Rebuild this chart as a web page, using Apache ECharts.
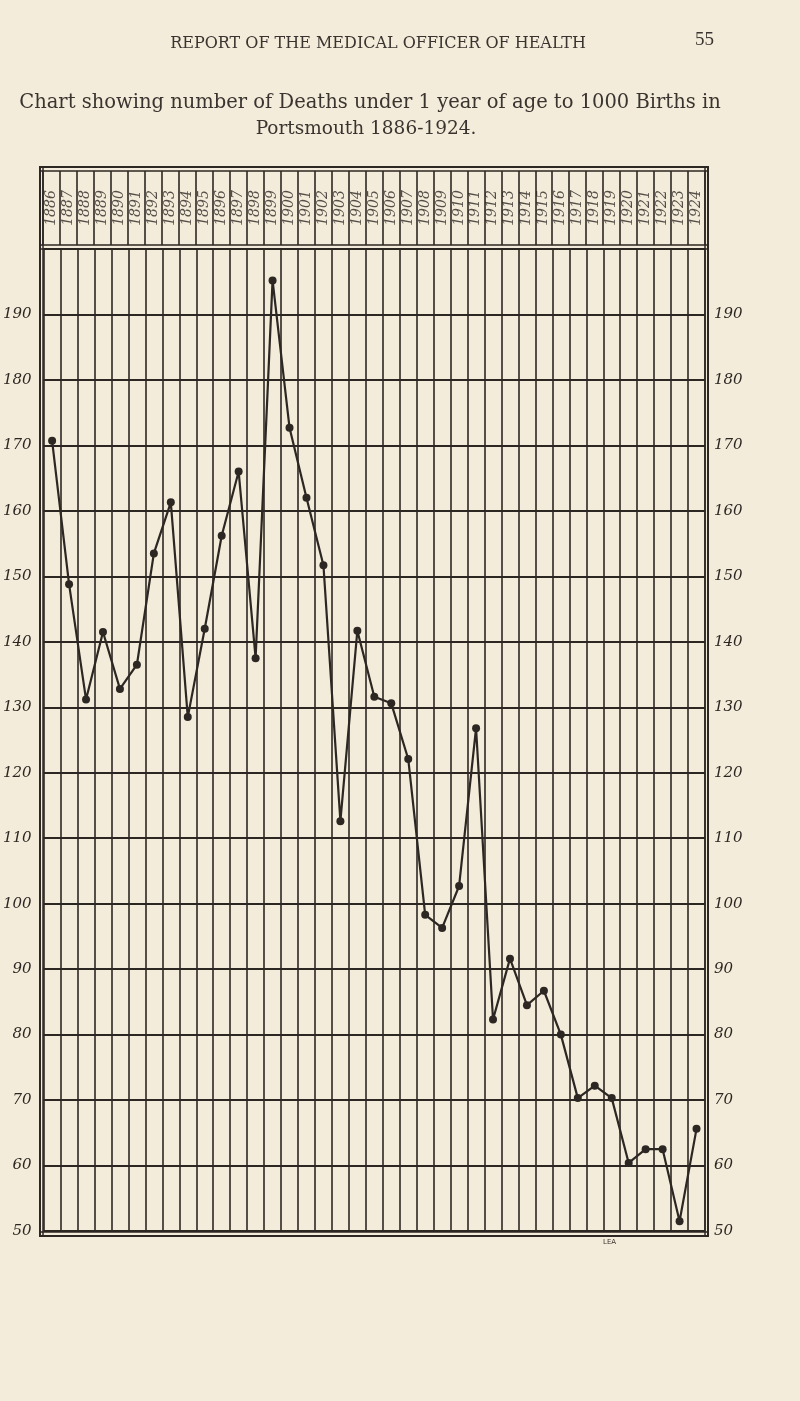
<!DOCTYPE html>
<html>
<head>
<meta charset="utf-8">
<script src="https://cdn.jsdelivr.net/npm/echarts@6/dist/echarts.min.js"></script>
<style>
html,body{margin:0;padding:0;background:#f3ecda;}
#chart{width:800px;height:1401px;}
</style>
</head>
<body>
<div id="chart"></div>
<script>
// ---- data ----
const years = ['1886','1887','1888','1889','1890','1891','1892','1893','1894','1895','1896','1897','1898','1899','1900','1901','1902','1903','1904','1905','1906','1907','1908','1909','1910','1911','1912','1913','1914','1915','1916','1917','1918','1919','1920','1921','1922','1923','1924'];
const deathsPer1000 = [170.7,148.8,131.2,141.5,132.8,136.5,153.5,161.3,128.5,142,156.2,166,137.5,195.2,172.7,162,151.7,112.6,141.7,131.6,130.6,122.1,98.3,96.3,102.7,126.8,82.3,91.6,84.5,86.7,80,70.3,72.2,70.3,60.4,62.5,62.5,51.5,65.6];
const yTickLabels = [50,60,70,80,90,100,110,120,130,140,150,160,170,180,190];
const headerText = 'REPORT OF THE MEDICAL OFFICER OF HEALTH';
const pageNumber = '55';
const titleLine1 = 'Chart showing number of Deaths under 1 year of age to 1000 Births in';
const titleLine2 = 'Portsmouth 1886-1924.';

const ink = '#2c2723';
const chart = echarts.init(document.getElementById('chart'), null, {renderer:'canvas'});

const yLabel = {
  show: true,
  color: ink,
  fontFamily: 'DejaVu Serif',
  fontStyle: 'italic',
  fontSize: 15,
  formatter: v => yTickLabels.indexOf(v) >= 0 ? String(v) : ''
};

const catAxis = (gi) => ({
  type:'category', gridIndex:gi, data: years, boundaryGap:true,
  axisLine:{show:false}, axisTick:{show:false}, axisLabel:{show:false, interval:0},
  splitLine:{show:true, interval:0, lineStyle:{color:ink, width:1.6}}
});

const option = {
  backgroundColor: '#f3ecda',
  animation: false,
  grid: [
    {left: 43, right: 95, top: 249, height: 982},
    {left: 43, right: 95, top: 171, height: 74}
  ],
  xAxis: [catAxis(0), catAxis(1)],
  yAxis: [
    {type:'value', gridIndex:0, min:50, max:200, interval:10, position:'left',
     axisLine:{show:false}, axisTick:{show:false},
     axisLabel: Object.assign({}, yLabel, {margin: 12}),
     splitLine:{show:true, lineStyle:{color:ink, width:2}}},
    {type:'value', gridIndex:0, min:50, max:200, interval:10, position:'right',
     axisLine:{show:false}, axisTick:{show:false},
     axisLabel: Object.assign({}, yLabel, {margin: 9}),
     splitLine:{show:false}},
    {type:'value', gridIndex:1, min:0, max:1, show:false}
  ],
  series: [
    {
      type:'line', xAxisIndex:0, yAxisIndex:0,
      data: deathsPer1000,
      symbol:'circle', symbolSize:8, showSymbol:true,
      lineStyle:{color:ink, width:2.2},
      itemStyle:{color:ink},
      z: 5
    },
    {
      type:'scatter', xAxisIndex:1, yAxisIndex:2,
      data: years.map(y => [y, 0.5]),
      symbolSize: 1,
      itemStyle:{color:'rgba(0,0,0,0)'},
      label:{
        show:true, position:'inside', rotate:90,
        formatter: p => p.value[0],
        color: ink, fontFamily:'DejaVu Serif', fontStyle:'italic', fontSize:14
      }
    }
  ],
  graphic: [
    // frame
    {type:'rect', shape:{x:40, y:167, width:668, height:1069}, style:{fill:null, stroke:ink, lineWidth:2}, z:10},
    {type:'line', shape:{x1:40, y1:171, x2:708, y2:171}, style:{stroke:ink, lineWidth:1.5}, z:10},
    {type:'line', shape:{x1:40, y1:245, x2:708, y2:245}, style:{stroke:ink, lineWidth:1.5}, z:10},
    {type:'line', shape:{x1:40, y1:249, x2:708, y2:249}, style:{stroke:ink, lineWidth:1.5}, z:10},
    {type:'line', shape:{x1:43, y1:167, x2:43, y2:1236}, style:{stroke:ink, lineWidth:1.5}, z:10},
    {type:'line', shape:{x1:705, y1:167, x2:705, y2:1236}, style:{stroke:ink, lineWidth:1.5}, z:10},
    {type:'line', shape:{x1:40, y1:1232, x2:708, y2:1232}, style:{stroke:ink, lineWidth:1.5}, z:10},
    // texts
    {type:'text', x:378, y:36, style:{text:headerText, fill:'#3a3430', font:'16px "DejaVu Serif"', textAlign:'center'}},
    {type:'text', x:695, y:31, style:{text:pageNumber, fill:'#3a3430', font:'19px "Liberation Serif"'}},
    {type:'text', x:370, y:93, style:{text:titleLine1, fill:'#3a3430', font:'19.5px "DejaVu Serif"', textAlign:'center'}},
    {type:'text', x:366, y:120, style:{text:titleLine2, fill:'#3a3430', font:'18.5px "DejaVu Serif"', textAlign:'center'}},
    {type:'text', x:603, y:1239, style:{text:'LEA', fill:'#3a3430', font:'7px "DejaVu Sans"'}}
  ]
};
chart.setOption(option);
</script>
</body>
</html>
